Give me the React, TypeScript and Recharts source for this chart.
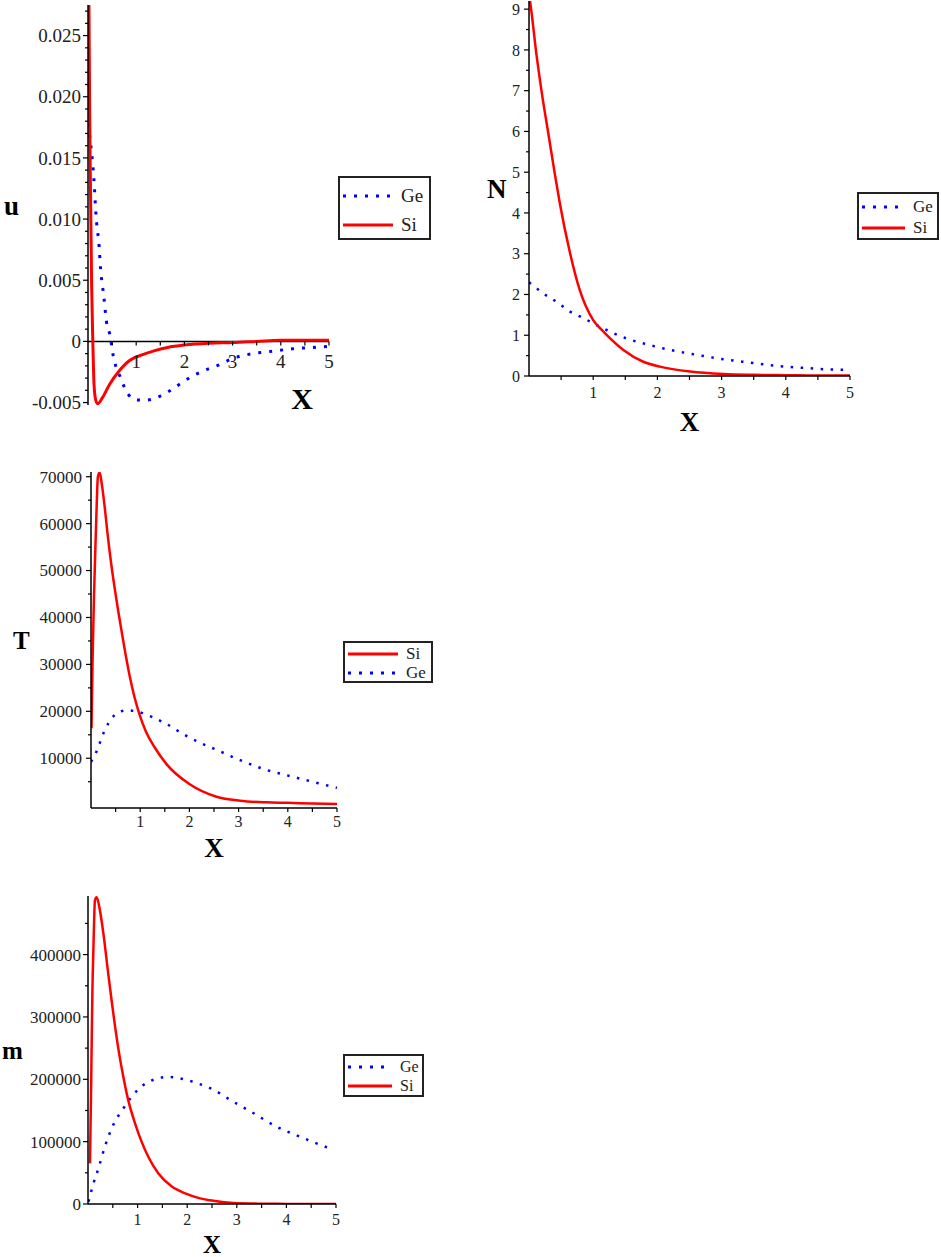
import { LineChart, Line, XAxis, YAxis, Legend, ReferenceLine } from 'recharts';

// u(X)
const uGeX = [0, 0.07, 0.12, 0.17, 0.23, 0.26, 0.33, 0.38, 0.45, 0.53, 0.6, 0.67, 0.76, 0.9, 1.04, 1.21, 1.42, 1.63, 1.9, 2.18, 2.46, 2.73, 3.0, 3.42, 3.84, 4.25, 4.67, 5.0];
const uGeY = [0.0178, 0.0156, 0.0134, 0.0101, 0.0078, 0.006, 0.0036, 0.0017, 0.0006, -0.0013, -0.0023, -0.0029, -0.0038, -0.0046, -0.0048, -0.0048, -0.0046, -0.0042, -0.0035, -0.0028, -0.0023, -0.0019, -0.0014, -0.001, -0.0008, -0.0006, -0.0005, -0.0004];
const uSiX = [0, 0.02, 0.035, 0.05, 0.075, 0.1, 0.125, 0.16, 0.2, 0.3, 0.45, 0.65, 0.85, 1.05, 1.35, 1.65, 2, 2.5, 3, 3.5, 4, 4.5, 5];
const uSiY = [0.036, 0.0275, 0.0185, 0.0129, 0.0047, 0, -0.0035, -0.0048, -0.0051, -0.0046, -0.0035, -0.0024, -0.0016, -0.0012, -0.0008, -0.0005, -0.0003, -0.00015, -0.0001, 0, 0.0001, 0.0001, 0.0001];

// N(X)
const nGeX = [0, 0.22, 0.43, 0.64, 0.85, 1.05, 1.26, 1.52, 1.88, 2.2, 2.61, 3.03, 3.44, 3.86, 4.27, 4.69, 5];
const nGeY = [2.3, 2.03, 1.82, 1.58, 1.42, 1.25, 1.09, 0.92, 0.76, 0.64, 0.52, 0.41, 0.33, 0.25, 0.2, 0.16, 0.15];
const nSiX = [0, 0.02, 0.12, 0.2, 0.3, 0.4, 0.48, 0.64, 0.79, 1.0, 1.16, 1.47, 1.78, 2.04, 2.51, 3.03, 3.5, 4, 4.5, 5];
const nSiY = [9.35, 9.15, 7.84, 6.94, 5.96, 4.98, 4.24, 3.01, 2.11, 1.37, 1.09, 0.64, 0.35, 0.23, 0.11, 0.05, 0.03, 0.02, 0.01, 0.01];

// T(X)
const tSiX = [0.01, 0.03, 0.06, 0.087, 0.11, 0.14, 0.175, 0.22, 0.28, 0.34, 0.41, 0.48, 0.55, 0.62, 0.68, 0.785, 0.89, 0.99, 1.12, 1.29, 1.53, 2.0, 2.55, 3.03, 3.57, 4.0, 4.5, 5.0];
const tSiY = [16400, 30000, 44200, 54100, 62000, 70000, 70900, 68400, 63400, 57500, 51500, 46300, 41600, 37200, 33500, 27600, 22800, 19200, 15600, 12400, 8800, 4500, 1800, 950, 600, 500, 350, 250];
const tGeX = [0, 0.11, 0.28, 0.45, 0.58, 0.75, 0.95, 1.26, 1.5, 1.9, 2.24, 2.55, 3.03, 3.57, 3.97, 4.5, 4.92, 5];
const tGeY = [9250, 11400, 16000, 18900, 19900, 20200, 19900, 18700, 17500, 15000, 13200, 11800, 9600, 7500, 6400, 5000, 3900, 3700];

// m(X)
const mGeX = [0.01, 0.11, 0.21, 0.34, 0.51, 0.71, 0.88, 1.12, 1.39, 1.6, 1.89, 2.19, 2.46, 2.93, 3.33, 3.8, 4.27, 4.68, 4.95];
const mGeY = [3700, 33000, 57000, 92000, 127000, 153000, 172000, 191000, 201000, 204000, 201000, 194000, 186000, 164000, 146000, 124000, 108000, 95000, 87000];
const mSiX = [0.04, 0.06, 0.075, 0.088, 0.11, 0.14, 0.175, 0.24, 0.31, 0.41, 0.48, 0.54, 0.61, 0.71, 0.81, 0.95, 1.08, 1.22, 1.42, 1.69, 1.96, 2.26, 2.46, 2.93, 3.5, 4, 5];
const mSiY = [65200, 172000, 263000, 338000, 412000, 487000, 492000, 471000, 434000, 368000, 324000, 288000, 250000, 205000, 167000, 129000, 100000, 75000, 49000, 28000, 17000, 9000, 5900, 1600, 500, 200, 0];

// tick labels
const xMajor = [1, 2, 3, 4, 5];
const xMinor = [0.5, 1.5, 2.5, 3.5, 4.5];
const uYTicks = [-0.005, 0, 0.005, 0.01, 0.015, 0.02, 0.025];
const uYLabels = ['-0.005', '0', '0.005', '0.010', '0.015', '0.020', '0.025'];
const nYTicks = [0, 1, 2, 3, 4, 5, 6, 7, 8, 9];
const nYLabels = ['0', '1', '2', '3', '4', '5', '6', '7', '8', '9'];
const tYTicks = [10000, 20000, 30000, 40000, 50000, 60000, 70000];
const tYLabels = ['10000', '20000', '30000', '40000', '50000', '60000', '70000'];
const mYTicks = [0, 100000, 200000, 300000, 400000];
const mYLabels = ['0', '100000', '200000', '300000', '400000'];

const SERIF = '"Liberation Serif", "Times New Roman", serif';
const RED = '#ff0000';
const BLUE = '#0000ff';
const INK = '#222';

const toPoints = (xs: number[], ys: number[]) => xs.map((x, i) => ({ x, y: ys[i] }));

const steps = (from: number, to: number, step: number) => {
  const out: number[] = [];
  const n = Math.round((to - from) / step);
  for (let i = 0; i <= n; i++) out.push(Number((from + i * step).toFixed(6)));
  return out;
};

const same = (a: number, b: number) => Math.abs(a - b) < 1e-7;

const makeYTick = (values: number[], labels: string[], fontSize: number, gap: number) => (props: any) => {
  const { x, y, payload } = props;
  const idx = values.findIndex((v) => same(v, payload.value));
  const major = idx >= 0;
  return (
    <g>
      <line x1={x} y1={y} x2={x - (major ? 5 : 3)} y2={y} stroke="#000" strokeWidth={1.2} />
      {major && (
        <text x={x - gap} y={y} dy="0.35em" textAnchor="end" fontSize={fontSize} fontFamily={SERIF} fill={INK}>
          {labels[idx]}
        </text>
      )}
    </g>
  );
};

const makeXTick = (fontSize: number, baseline: number, shift: number) => (props: any) => {
  const { x, y, payload } = props;
  const ay = y - shift;
  const label = xMajor.find((v) => same(v, payload.value));
  return (
    <g>
      <line x1={x} y1={ay} x2={x} y2={ay + 4} stroke="#000" strokeWidth={1.2} />
      {label !== undefined && (
        <text x={x} y={ay + baseline} textAnchor="middle" fontSize={fontSize} fontFamily={SERIF} fill={INK}>
          {label}
        </text>
      )}
    </g>
  );
};

interface Series {
  name: string;
  data: { x: number; y: number }[];
  color: string;
  width: number;
  dash?: string;
}

interface LegendBox {
  left: number;
  top: number;
  width: number;
  height: number;
  lineW: number;
  rowH: number;
  padTop: number;
  fontSize: number;
}

interface PanelProps {
  left: number;
  top: number;
  width: number;
  height: number;
  margin: { top: number; right: number; bottom: number; left: number };
  yWidth: number;
  xHeight: number;
  yDomain: [number, number];
  yAll: number[];
  yTicks: number[];
  yLabels: string[];
  yFont: number;
  yGap: number;
  xFont: number;
  xBaseline: number;
  zeroAxis?: boolean;
  yName: string;
  yNameSize: number;
  yNameOffset: number;
  xNamePos: 'bottom' | 'insideBottomRight';
  xNameOffset: number;
  xNameSize: number;
  series: Series[];
  legend: LegendBox;
}

function Panel(p: PanelProps) {
  const plotH = p.height - p.margin.top - p.margin.bottom - p.xHeight;
  const shift = p.zeroAxis ? (plotH * (0 - p.yDomain[0])) / (p.yDomain[1] - p.yDomain[0]) : 0;
  const lg = p.legend;
  return (
    <div style={{ position: 'absolute', left: p.left, top: p.top }}>
      <LineChart width={p.width} height={p.height} margin={p.margin}>
        <XAxis
          type="number"
          dataKey="x"
          domain={[0, 5]}
          ticks={[...xMinor, ...xMajor].sort((a, b) => a - b)}
          interval={0}
          allowDataOverflow
          height={p.xHeight}
          axisLine={p.zeroAxis ? false : { stroke: '#000', strokeWidth: 1.5 }}
          tickLine={false}
          tickSize={0}
          tickMargin={0}
          tick={makeXTick(p.xFont, p.xBaseline, shift)}
          label={{
            value: 'X',
            position: p.xNamePos,
            offset: p.xNameOffset,
            fontSize: p.xNameSize,
            fontWeight: 'bold',
            fontFamily: SERIF,
            fill: '#000',
          }}
        />
        <YAxis
          type="number"
          domain={p.yDomain}
          ticks={p.yAll}
          interval={0}
          allowDataOverflow
          width={p.yWidth}
          axisLine={{ stroke: '#000', strokeWidth: 1.5 }}
          tickLine={false}
          tickSize={0}
          tickMargin={0}
          tick={makeYTick(p.yTicks, p.yLabels, p.yFont, p.yGap)}
          label={{
            value: p.yName,
            position: 'insideLeft',
            offset: p.yNameOffset,
            fontSize: p.yNameSize,
            fontWeight: 'bold',
            fontFamily: SERIF,
            fill: '#000',
          }}
        />
        {p.zeroAxis && <ReferenceLine y={0} stroke="#000" strokeWidth={1.5} />}
        {p.series.map((s) => (
          <Line
            key={s.name}
            data={s.data}
            dataKey="y"
            name={s.name}
            type="monotone"
            stroke={s.color}
            strokeWidth={s.width}
            strokeDasharray={s.dash}
            dot={false}
            activeDot={false}
            isAnimationActive={false}
          />
        ))}
        <Legend
          layout="vertical"
          align="center"
          verticalAlign="middle"
          wrapperStyle={{ left: lg.left, top: lg.top, width: lg.width, height: lg.height }}
          content={() => (
            <div
              style={{
                boxSizing: 'border-box',
                width: lg.width,
                height: lg.height,
                border: '2px solid #222',
                background: '#fff',
                paddingTop: lg.padTop,
                paddingLeft: 3,
                fontFamily: SERIF,
                fontSize: lg.fontSize,
                color: INK,
              }}
            >
              {p.series.map((s) => (
                <div key={s.name} style={{ display: 'flex', alignItems: 'center', height: lg.rowH, whiteSpace: 'nowrap' }}>
                  <svg width={lg.lineW} height={8} style={{ flex: 'none' }}>
                    <line x1={0} y1={4} x2={lg.lineW} y2={4} stroke={s.color} strokeWidth={3} strokeDasharray={s.dash ? '3 8' : undefined} />
                  </svg>
                  <span style={{ marginLeft: 8 }}>{s.name}</span>
                </div>
              ))}
            </div>
          )}
        />
      </LineChart>
    </div>
  );
}

export default function App() {
  return (
    <div style={{ position: 'absolute', left: 0, top: 0, width: 941, height: 1257, background: '#fff', overflow: 'hidden' }}>
      <Panel
        left={0}
        top={0}
        width={470}
        height={430}
        margin={{ top: 5, right: 141, bottom: 5, left: 0 }}
        yWidth={88}
        xHeight={20}
        yDomain={[-0.0052, 0.0275]}
        yAll={steps(-0.005, 0.027, 0.001)}
        yTicks={uYTicks}
        yLabels={uYLabels}
        yFont={19}
        yGap={7}
        xFont={19}
        xBaseline={27}
        zeroAxis
        yName="u"
        yNameSize={27}
        yNameOffset={4}
        xNamePos="insideBottomRight"
        xNameOffset={16}
        xNameSize={30}
        series={[
          { name: 'Ge', data: toPoints(uGeX, uGeY), color: BLUE, width: 3, dash: '3 8' },
          { name: 'Si', data: toPoints(uSiX, uSiY), color: RED, width: 3 },
        ]}
        legend={{ left: 338, top: 176, width: 93, height: 64, lineW: 50, rowH: 29, padTop: 3, fontSize: 19 }}
      />
      <Panel
        left={470}
        top={0}
        width={471}
        height={440}
        margin={{ top: 1, right: 91, bottom: 34, left: 0 }}
        yWidth={59}
        xHeight={30}
        yDomain={[0, 9.2]}
        yAll={steps(0, 9, 0.5)}
        yTicks={nYTicks}
        yLabels={nYLabels}
        yFont={16}
        yGap={9}
        xFont={16}
        xBaseline={22}
        yName="N"
        yNameSize={27}
        yNameOffset={17}
        xNamePos="bottom"
        xNameOffset={6}
        xNameSize={27}
        series={[
          { name: 'Ge', data: toPoints(nGeX, nGeY), color: BLUE, width: 2.5, dash: '2.5 7.5' },
          { name: 'Si', data: toPoints(nSiX, nSiY), color: RED, width: 2.5 },
        ]}
        legend={{ left: 387, top: 192, width: 82, height: 48, lineW: 43, rowH: 21, padTop: 2, fontSize: 17 }}
      />
      <Panel
        left={0}
        top={440}
        width={470}
        height={428}
        margin={{ top: 32, right: 133, bottom: 30, left: 0 }}
        yWidth={91}
        xHeight={30}
        yDomain={[-600, 71000]}
        yAll={steps(5000, 70000, 5000)}
        yTicks={tYTicks}
        yLabels={tYLabels}
        yFont={17}
        yGap={9}
        xFont={16}
        xBaseline={19}
        yName="T"
        yNameSize={25}
        yNameOffset={13}
        xNamePos="bottom"
        xNameOffset={0}
        xNameSize={27}
        series={[
          { name: 'Si', data: toPoints(tSiX, tSiY), color: RED, width: 2.5 },
          { name: 'Ge', data: toPoints(tGeX, tGeY), color: BLUE, width: 2.5, dash: '2.5 7.5' },
        ]}
        legend={{ left: 343, top: 201, width: 90, height: 42, lineW: 50, rowH: 19, padTop: 1, fontSize: 17 }}
      />
      <Panel
        left={0}
        top={870}
        width={470}
        height={387}
        margin={{ top: 26, right: 134, bottom: 23, left: 0 }}
        yWidth={88}
        xHeight={30}
        yDomain={[0, 494000]}
        yAll={steps(0, 450000, 50000)}
        yTicks={mYTicks}
        yLabels={mYLabels}
        yFont={17}
        yGap={7}
        xFont={16}
        xBaseline={21}
        yName="m"
        yNameSize={25}
        yNameOffset={2}
        xNamePos="bottom"
        xNameOffset={1}
        xNameSize={25}
        series={[
          { name: 'Ge', data: toPoints(mGeX, mGeY), color: BLUE, width: 2.5, dash: '2.5 7.5' },
          { name: 'Si', data: toPoints(mSiX, mSiY), color: RED, width: 2.5 },
        ]}
        legend={{ left: 343, top: 184, width: 81, height: 43, lineW: 44, rowH: 19, padTop: 1.5, fontSize: 16 }}
      />
    </div>
  );
}
